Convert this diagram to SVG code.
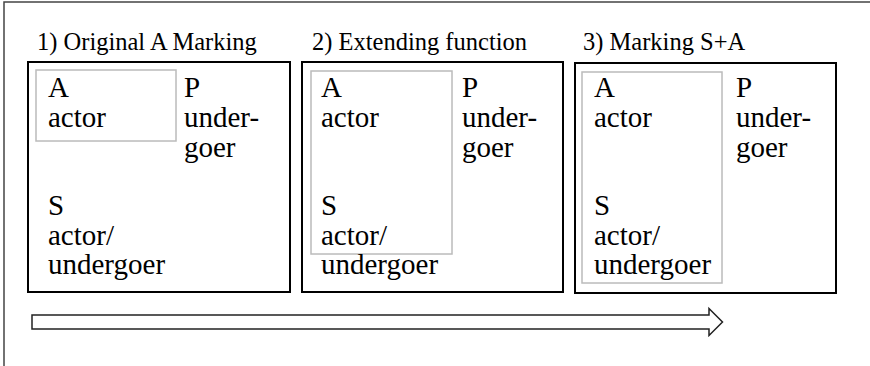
<svg xmlns="http://www.w3.org/2000/svg" width="870" height="366" viewBox="0 0 870 366">
<style>
  text { font-family: 'Liberation Serif', 'Times New Roman', serif; fill: #000; }
  .title { font-size: 24.5px; }
  .lbl { font-size: 29px; }
  .box { fill: #fff; stroke: #000; stroke-width: 2; }
  .set { fill: none; stroke: #bbb; stroke-width: 1.5; }
  .frame { fill: none; stroke: #444; stroke-width: 1.5; }
  .arrow { fill: #fff; stroke: #222; stroke-width: 1.5; stroke-linejoin: miter; }
</style>
<rect width="870" height="366" fill="#fff"/>
<g id="frame">
  <polyline class="frame" points="4,366 4,2 870,2"/>
</g>
<g id="panel1">
  <text class="title" x="37" y="50">1) Original A Marking</text>
  <rect class="box" x="28" y="62" width="262" height="230"/>
  <rect class="set" x="36" y="70" width="140" height="71"/>
  <text class="lbl" x="48" y="97">A</text>
  <text class="lbl" x="48" y="127">actor</text>
  <text class="lbl" x="184" y="97">P</text>
  <text class="lbl" x="184" y="127">under-</text>
  <text class="lbl" x="184" y="157">goer</text>
  <text class="lbl" x="48" y="215">S</text>
  <text class="lbl" x="48" y="245">actor/</text>
  <text class="lbl" x="48" y="274">undergoer</text>
</g>
<g id="panel2">
  <text class="title" x="312" y="50">2) Extending function</text>
  <rect class="box" x="302" y="62" width="261" height="230"/>
  <rect class="set" x="311" y="71" width="141" height="183"/>
  <text class="lbl" x="321" y="97">A</text>
  <text class="lbl" x="321" y="127">actor</text>
  <text class="lbl" x="462" y="97">P</text>
  <text class="lbl" x="462" y="127">under-</text>
  <text class="lbl" x="462" y="157">goer</text>
  <text class="lbl" x="321" y="215">S</text>
  <text class="lbl" x="321" y="245">actor/</text>
  <text class="lbl" x="321" y="274">undergoer</text>
</g>
<g id="panel3">
  <text class="title" x="583" y="50">3) Marking S+A</text>
  <rect class="box" x="575" y="63" width="261" height="230"/>
  <rect class="set" x="582" y="72" width="140" height="211"/>
  <text class="lbl" x="594" y="97">A</text>
  <text class="lbl" x="594" y="127">actor</text>
  <text class="lbl" x="736" y="97">P</text>
  <text class="lbl" x="736" y="127">under-</text>
  <text class="lbl" x="736" y="157">goer</text>
  <text class="lbl" x="594" y="215">S</text>
  <text class="lbl" x="594" y="245">actor/</text>
  <text class="lbl" x="594" y="274">undergoer</text>
</g>
<g id="connectors">
  <polygon class="arrow" points="32,315 709,315 709,308.5 722.5,322 709,335.5 709,329 32,329"/>
</g>
</svg>
